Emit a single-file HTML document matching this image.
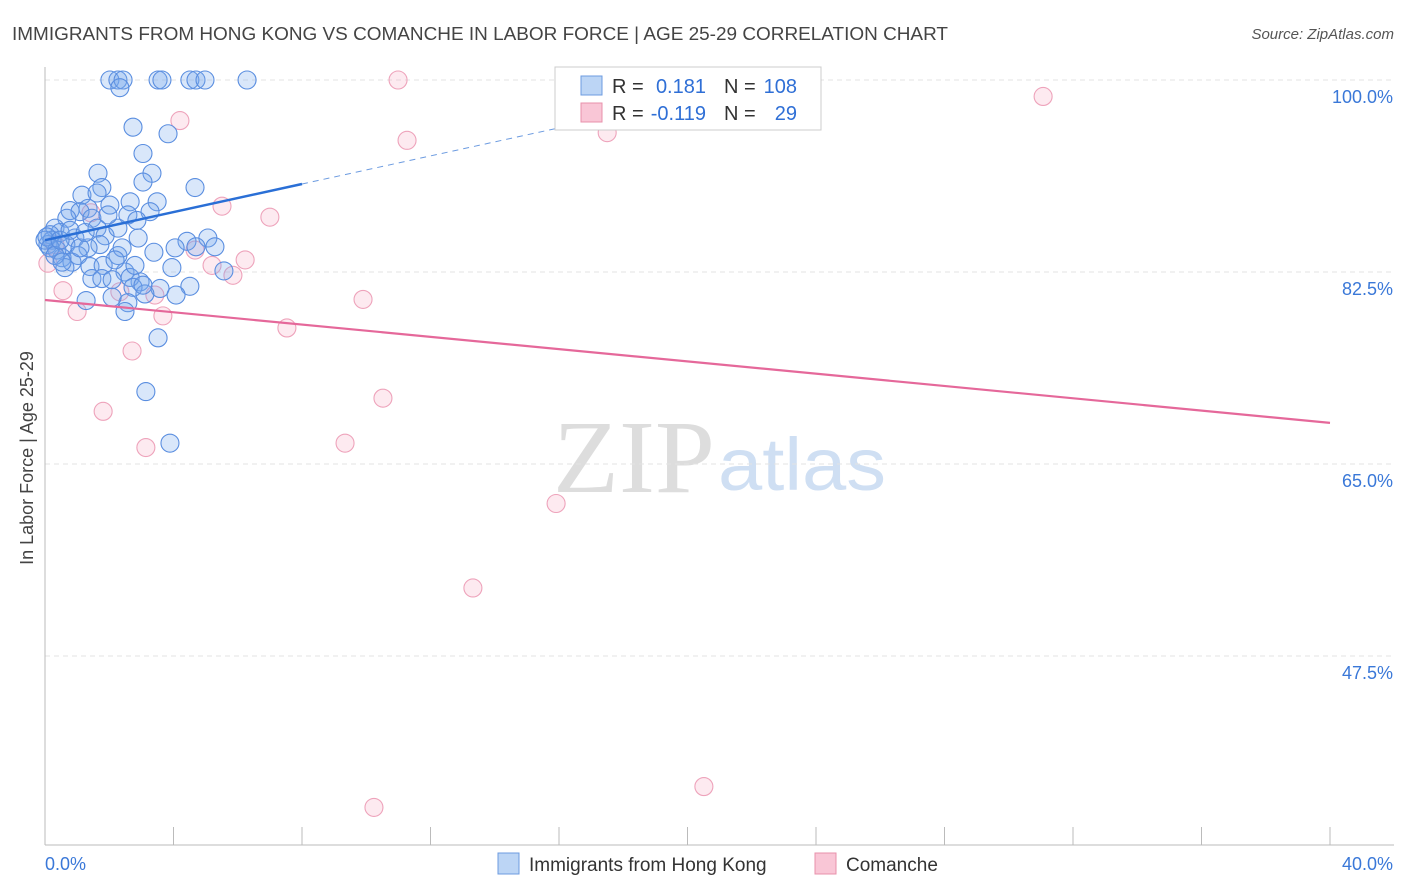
<!DOCTYPE html>
<html><head><meta charset="utf-8"><style>
body{margin:0;background:#fff;font-family:"Liberation Sans",sans-serif;}
#wrap{position:relative;width:1406px;height:892px;overflow:hidden;}
</style></head><body>
<div id="wrap">
<svg id="svg" width="1406" height="892" xmlns="http://www.w3.org/2000/svg">
<text x="12" y="40" font-size="18" fill="#444" textLength="936" lengthAdjust="spacingAndGlyphs">IMMIGRANTS FROM HONG KONG VS COMANCHE IN LABOR FORCE | AGE 25-29 CORRELATION CHART</text>
<text x="1394" y="39" font-size="15" fill="#555" text-anchor="end" font-style="italic">Source: ZipAtlas.com</text>
<text x="33" y="458" font-size="18" fill="#444" text-anchor="middle" transform="rotate(-90 33 458)">In Labor Force | Age 25-29</text>
<text x="553" y="492" font-size="104" fill="#ddd" font-family="Liberation Serif,serif" textLength="162" lengthAdjust="spacingAndGlyphs">ZIP</text>
<text x="718" y="490" font-size="74" fill="#cfdff3" textLength="168" lengthAdjust="spacingAndGlyphs">atlas</text>
<g id="grid"></g><g id="axes"></g><g id="pink"></g><g id="blue"></g><g id="lines"></g>
<g>
<rect x="555" y="67" width="266" height="63" fill="#fff" stroke="#ccc"/>
<rect x="581" y="76" width="21" height="19" fill="#bcd5f5" stroke="#6c9be0"/>
<rect x="581" y="103" width="21" height="19" fill="#f9c6d6" stroke="#e890ab"/>
<text x="612" y="93" font-size="20" fill="#333">R = </text><text x="706" y="93" font-size="20" fill="#2f6fd6" text-anchor="end">0.181</text>
<text x="724" y="93" font-size="20" fill="#333">N = </text><text x="797" y="93" font-size="20" fill="#2f6fd6" text-anchor="end">108</text>
<text x="612" y="120" font-size="20" fill="#333">R = </text><text x="706" y="120" font-size="20" fill="#2f6fd6" text-anchor="end">-0.119</text>
<text x="724" y="120" font-size="20" fill="#333">N = </text><text x="797" y="120" font-size="20" fill="#2f6fd6" text-anchor="end">29</text>
</g>
<g>
<rect x="498" y="853" width="21" height="21" fill="#bcd5f5" stroke="#6c9be0"/>
<text x="529" y="871" font-size="19" fill="#333">Immigrants from Hong Kong</text>
<rect x="815" y="853" width="21" height="21" fill="#f9c6d6" stroke="#e890ab"/>
<text x="846" y="871" font-size="19" fill="#333">Comanche</text>
</g>
</svg></div>
<script>
const yTicks=[100,82.5,65,47.5];
const yTickLabels=["100.0%","82.5%","65.0%","47.5%"];
const xEnds=[0,40];
const xEndLabels=["0.0%","40.0%"];
const blueX=[2.02,2.27,2.43,3.52,3.64,4.51,4.70,4.98,6.29,2.33,2.74,3.83,3.05,1.65,3.33,3.05,4.67,1.77,1.15,1.62,3.49,2.02,2.65,0.78,1.34,1.09,0.68,1.46,3.27,2.58,2.86,1.62,0.31,0.47,0.16,0.93,1.87,2.27,5.07,4.42,2.90,4.70,5.29,4.05,3.39,1.71,1.34,0.65,1.03,0.53,0.84,1.40,1.81,2.27,2.40,0.09,0.22,0.37,0.62,3.95,5.57,2.49,2.96,2.65,1.46,1.77,2.09,2.74,3.58,4.51,4.08,3.11,2.58,2.09,1.28,2.49,3.52,3.14,3.89,0,0.06,0.16,0.31,0.47,0.78,1.09,1.25,1.96,2.18,2.80,3.05,0.53];
const blueY=[100,100,100,100,100,100,100,100,100,99.3,95.7,95.1,93.3,91.5,91.5,90.7,90.2,90.2,89.5,89.7,88.9,88.6,88.9,88.1,88.3,88.0,87.4,87.4,88.0,87.7,87.2,86.5,86.5,86.1,85.9,85.6,85.8,86.5,85.6,85.3,85.6,84.8,84.8,84.7,84.3,85.0,84.7,85.0,84.0,83.8,83.4,83.0,83.1,84.0,84.7,85.0,85.4,84.5,82.9,82.9,82.6,82.5,81.6,82.0,81.9,81.9,81.8,81.1,81.0,81.2,80.4,80.5,79.7,80.2,79.9,78.9,76.5,71.6,66.9,85.4,85.7,84.7,84.0,85.4,86.3,84.7,86.1,87.7,83.6,83.1,81.3,83.4];
const pinkX=[10.99,31.07,4.20,11.27,17.50,5.51,7.00,1.43,4.67,6.23,5.20,5.85,0.09,0.56,3.42,2.33,9.90,1.00,3.67,7.53,2.71,10.52,1.81,9.34,3.14,15.91,13.32,20.51,10.24,0.31];
const pinkY=[100,98.5,96.3,94.5,95.2,88.5,87.5,87.9,84.5,83.6,83.1,82.2,83.3,80.8,80.4,80.7,80.0,78.9,78.5,77.4,75.3,71.0,69.8,66.9,66.5,61.4,53.7,35.6,33.7,85.0];
const blueTrend=[85.4,0.64]; // intercept, slope
const pinkTrend=[79.95,-0.28];

const NS="http://www.w3.org/2000/svg";
const X=v=>45+v/40*1285;
const Y=v=>80+(100-v)*(192/17.5);
function mk(tag,attrs,parent){const e=document.createElementNS(NS,tag);for(const k in attrs)e.setAttribute(k,attrs[k]);document.getElementById(parent).appendChild(e);return e;}

yTicks.forEach((t,i)=>{
  const g=mk('line',{x1:45,x2:1394,y1:Y(t),y2:Y(t),stroke:'#e3e3e3','stroke-dasharray':'5,4'},'grid');
  
  
  const l=mk('text',{x:1393,y:Y(t)+23,'font-size':18,fill:'#3a78d8','text-anchor':'end'},'axes');
  l.textContent=yTickLabels[i];
  
  
});
const ax=mk('line',{x1:45,x2:1394,y1:845,y2:845,stroke:'#bbb'},'axes');


const ay=mk('line',{x1:45,x2:45,y1:67,y2:845,stroke:'#bbb'},'axes');


for(let i=0;i<=10;i++){
  const t=mk('line',{x1:X(i*4),x2:X(i*4),y1:827,y2:845,stroke:'#bbb'},'axes');
  
  
}
xEnds.forEach((v,i)=>{
  const l=mk('text',{x:i?1393:45,y:870,'font-size':18,fill:'#3a78d8','text-anchor':i?'end':'start'},'axes');
  l.textContent=xEndLabels[i];
  
  
});
pinkX.forEach((x,i)=>{
  const c=mk('circle',{cx:X(x),cy:Y(pinkY[i]),r:9,fill:'rgba(244,160,188,0.22)',stroke:'#eea3bb','stroke-width':1.1},'pink');
  
  
});
blueX.forEach((x,i)=>{
  const c=mk('circle',{cx:X(x),cy:Y(blueY[i]),r:9,fill:'rgba(120,168,238,0.28)',stroke:'#5a8ee0','stroke-width':1.1},'blue');
  
  
});
const bs=mk('line',{x1:X(0),y1:Y(blueTrend[0]),x2:X(8),y2:Y(blueTrend[0]+8*blueTrend[1]),stroke:'#2a6fd6','stroke-width':2.5},'lines');


const bd=mk('line',{x1:X(8),y1:Y(blueTrend[0]+8*blueTrend[1]),x2:X(17.5),y2:Y(blueTrend[0]+17.5*blueTrend[1]),stroke:'#6c9be0','stroke-width':1,'stroke-dasharray':'6,5'},'lines');


const pl=mk('line',{x1:X(0),y1:Y(pinkTrend[0]),x2:X(40),y2:Y(pinkTrend[0]+40*pinkTrend[1]),stroke:'#e5689a','stroke-width':2.2},'lines');


</script>
</body></html>
